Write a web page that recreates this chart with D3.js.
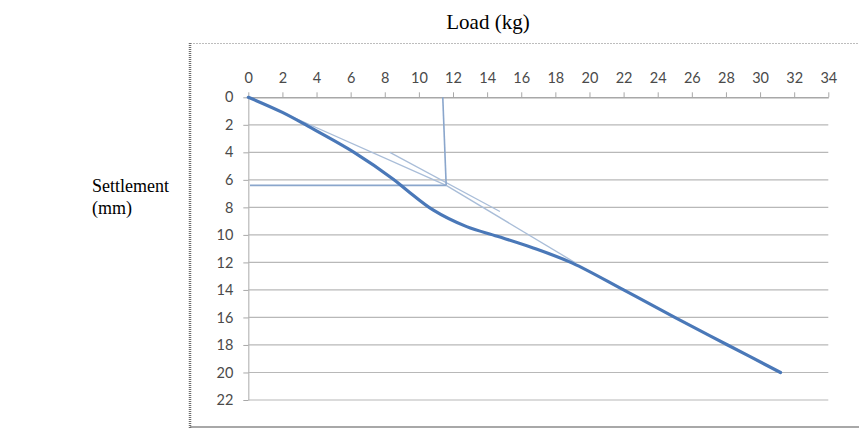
<!DOCTYPE html>
<html>
<head>
<meta charset="utf-8">
<script src="https://cdn.jsdelivr.net/npm/d3@7"></script>
<style>
  html, body { margin: 0; padding: 0; background: #fff; }
  svg { display: block; }
</style>
</head>
<body>
<svg id="chart" width="859" height="428"></svg>
<script>
// ---- Data ----
const xTicks = [0, 2, 4, 6, 8, 10, 12, 14, 16, 18, 20, 22, 24, 26, 28, 30, 32, 34];
const yTicks = [0, 2, 4, 6, 8, 10, 12, 14, 16, 18, 20, 22];
// Load (kg)
const loadValues = [0, 2, 3.5, 6.2, 8.5, 9.3, 10.85, 12.8, 14.6, 16.7, 19.0, 22, 25, 28.1, 31.2];
// Settlement (mm)
const settlementValues = [0, 1.1, 2.1, 4.0, 5.95, 6.75, 8.2, 9.4, 10.1, 10.95, 12.05, 14.0, 16.0, 18.0, 20.0];
// Construction lines (load, settlement)
const initialTangent = [[0, 0], [11.6, 6.4]];
const finalTangent = [[11.6, 6.4], [19.2, 12.05]];
const shortTangent = [[8.3, 4.0], [14.75, 8.3]];
const verticalLine = [[11.4, 0], [11.6, 6.4]];
const horizontalLine = [[0.1, 6.4], [11.6, 6.4]];

const xTitle = "Load (kg)";
const yTitle = ["Settlement", "(mm)"];

// ---- Drawing ----
const svg = d3.select("#chart");
const x = d3.scaleLinear().domain([0, 34]).range([248.3, 828.3]);
const y = d3.scaleLinear().domain([0, 22]).range([97.3, 400]);

// Frame
svg.append("line").attr("x1", 190).attr("x2", 859).attr("y1", 43.5).attr("y2", 43.5)
  .attr("stroke", "#bdbdbd").attr("stroke-width", 1).attr("stroke-dasharray", "2,1");
svg.append("line").attr("x1", 190).attr("x2", 859).attr("y1", 427).attr("y2", 427)
  .attr("stroke", "#a8a8a8").attr("stroke-width", 2);
svg.append("line").attr("x1", 190).attr("x2", 190).attr("y1", 43).attr("y2", 428)
  .attr("stroke", "#6e6e6e").attr("stroke-width", 2.5).attr("stroke-dasharray", "1,1");

// Gridlines
svg.append("g").selectAll("line").data(yTicks.slice(1)).join("line")
  .attr("x1", x(0)).attr("x2", x(34))
  .attr("y1", d => y(d)).attr("y2", d => y(d))
  .attr("stroke", "#b8b8b8").attr("stroke-width", 1.2);

// X axis (top)
const xAxis = svg.append("g").attr("transform", `translate(0,${y(0)})`)
  .call(d3.axisTop(x).tickValues(xTicks).tickSize(5).tickSizeOuter(0).tickPadding(9));
xAxis.select(".domain").attr("stroke", "#a8a8a8").attr("stroke-width", 1.5);
xAxis.selectAll(".tick line").attr("stroke", "#a8a8a8");
xAxis.selectAll(".tick text").attr("fill", "#4a4a4a").style("font-family", "Lato, 'Open Sans', sans-serif").style("font-size", "14.5px");

// Y axis (left)
const yAxis = svg.append("g").attr("transform", `translate(${x(0)},0)`)
  .call(d3.axisLeft(y).tickValues(yTicks).tickSize(5).tickSizeOuter(0).tickPadding(10));
yAxis.select(".domain").attr("stroke", "#b8b8b8").attr("stroke-width", 1.2);
yAxis.selectAll(".tick line").attr("stroke", "#a8a8a8");
yAxis.selectAll(".tick text").attr("fill", "#4a4a4a").style("font-family", "Lato, 'Open Sans', sans-serif").style("font-size", "14.5px");

const line = d3.line().x(d => x(d[0])).y(d => y(d[1]));

// Construction lines
[initialTangent, finalTangent, shortTangent].forEach(pts => {
  svg.append("path").attr("d", line(pts)).attr("fill", "none")
    .attr("stroke", "#a9bdd8").attr("stroke-width", 1.3);
});
[verticalLine, horizontalLine].forEach(pts => {
  svg.append("path").attr("d", line(pts)).attr("fill", "none")
    .attr("stroke", "#8aa6cc").attr("stroke-width", 1.6);
});

// Main curve
const curvePts = loadValues.map((v, i) => [v, settlementValues[i]]);
svg.append("path")
  .attr("d", d3.line().x(d => x(d[0])).y(d => y(d[1])).curve(d3.curveCatmullRom.alpha(0.5))(curvePts))
  .attr("fill", "none").attr("stroke", "#4a78b8").attr("stroke-width", 3.2)
  .attr("stroke-linecap", "round").attr("stroke-linejoin", "round");

// Titles
svg.append("text").attr("x", 488).attr("y", 29).attr("text-anchor", "middle")
  .style("font-family", "'Liberation Serif', 'Times New Roman', serif").style("font-size", "21px")
  .attr("fill", "#000").text(xTitle);
const yt = svg.append("text").style("font-family", "'Liberation Serif', 'Times New Roman', serif")
  .style("font-size", "18px").attr("fill", "#000");
yTitle.forEach((t, i) => {
  yt.append("tspan").attr("x", 92).attr("y", 192 + i * 22).text(t);
});
</script>
</body>
</html>
